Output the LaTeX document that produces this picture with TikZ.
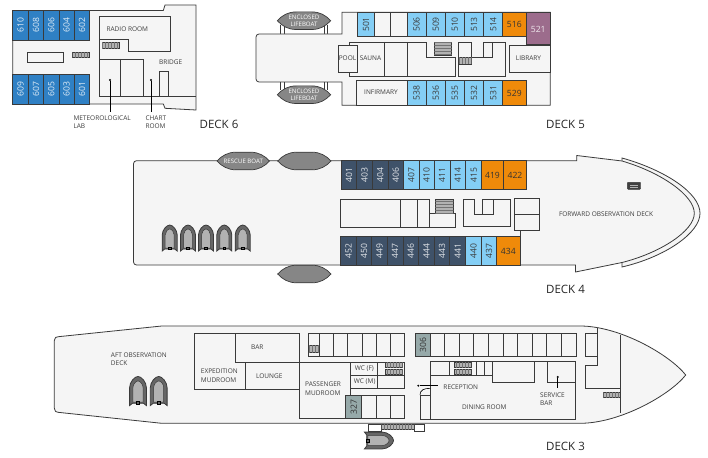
\documentclass[tikz,border=0pt]{standalone}
\usepackage{fontspec}
\setmainfont{Open Sans}
\usetikzlibrary{patterns}
\usetikzlibrary{calc}
\definecolor{deckfill}{HTML}{F5F5F5}
\definecolor{wall}{HTML}{3A3A3A}
\definecolor{label}{HTML}{3C3C3C}
\definecolor{mid}{HTML}{2F80C4}
\definecolor{sky}{HTML}{84CEF5}
\definecolor{navy}{HTML}{3F5269}
\definecolor{amber}{HTML}{EF8A0A}
\definecolor{mauve}{HTML}{9C6C8C}
\definecolor{sage}{HTML}{96A9A9}
\tikzset{
  hull/.style={draw=wall, fill=deckfill, line width=0.8pt},
  room/.style={draw=wall, line width=0.8pt},
  cabin/.style={draw=wall, line width=0.8pt},
  stairs/.style={draw=wall, line width=0.5pt, fill=gray!60, pattern color=gray!90!black},
  num/.style={rotate=90, inner sep=0pt, font=\fontsize{8.6}{9}\selectfont},
  numflat/.style={inner sep=0pt, font=\fontsize{8.6}{9}\selectfont},
  txt/.style={inner sep=0pt, text=label, font=\fontsize{6.5}{8.4}\selectfont},
  boattxt/.style={inner sep=0pt, text=white, align=center, font=\fontsize{6.1}{6.6}\selectfont},
  deckname/.style={inner sep=0pt, text=black!85, font=\fontsize{11.5}{13}\selectfont},
  dotmark/.style={circle, fill=black, inner sep=0pt, minimum size=2.2pt},
  boat/.style={draw=wall, fill=gray!95, line width=0.7pt},
  zodiac/.pic={
    \filldraw[draw=wall, fill=black!60, line width=0.8pt]
      (-7.5,13) -- (-7.5,-3) .. controls (-7.5,-8) and (-3,-13) .. (0,-13)
      .. controls (3,-13) and (7.5,-8) .. (7.5,-3) -- (7.5,13) -- (5,11) -- (-5,11) -- cycle;
    \filldraw[draw=wall, fill=gray!60, line width=0.5pt]
      (-4.5,10) -- (-4.5,-3) .. controls (-4.5,-6) and (-2,-9) .. (0,-9)
      .. controls (2,-9) and (4.5,-6) .. (4.5,-3) -- (4.5,10) -- cycle;
    \filldraw[draw=black, fill=black!60, line width=0.6pt] (-1.3,9) rectangle (1.3,11.5);
  }
}
\newcommand{\lensboat}[3]{
  \filldraw[boat] (#1,#3) .. controls (#1+5,#3-5.5) and (#1+11,#3-8.8) .. (#1+19,#3-8.8)
    -- (#2-19,#3-8.8) .. controls (#2-11,#3-8.8) and (#2-5,#3-5.5) .. (#2,#3)
    .. controls (#2-5,#3+5.5) and (#2-11,#3+8.8) .. (#2-19,#3+8.8)
    -- (#1+19,#3+8.8) .. controls (#1+11,#3+8.8) and (#1+5,#3+5.5) .. (#1,#3) -- cycle;
}

\begin{document}
\begin{tikzpicture}[x=1pt, y=-1pt]
  \useasboundingbox (0, 0) rectangle (708, 457);

  % deck 6
  \filldraw[hull] (12.7, 10.5) -- (163.3, 10.5) -- (165, 5) -- (196, 5) -- (196, 110) -- (165, 108.3)
    -- (163.3, 104) -- (12.7, 104) -- cycle;
  \foreach \xa/\xb/\top/\bot in {12.7/28.3/610/609, 28.3/43.7/608/607, 43.7/59/606/605, 59/74.3/604/603, 74.3/89.7/602/601} {
    \filldraw[cabin, fill=mid] (\xa, 10.7) rectangle (\xb, 40);
    \filldraw[cabin, fill=mid] (\xa, 74) rectangle (\xb, 104);
    \node[num, text=white!85!mid] (c\top) at ({(\xa+\xb)/2}, 25) {\top};
    \node[num, text=white!85!mid] (c\bot) at ({(\xa+\xb)/2}, 89) {\bot};
  }
  \draw[room] (27.7, 52) rectangle (63.3, 62.3);
  \filldraw[stairs, postaction={pattern=vertical lines}] (72.7, 52.3) rectangle (89.3, 57.7);
  \draw[room] (99.3, 59) -- (99.3, 16.7) -- (170.3, 16.7) -- (170.3, 51.7) -- (128.7, 51.7) -- (128.7, 39.3) -- (99.3, 39.3);
  \draw[room] (99.3, 59) -- (99.3, 96.7) -- (196, 96.7);
  \draw[room] (99.3, 59) -- (143.3, 59) -- (143.3, 96.7);
  \draw[room] (120.7, 59) -- (120.7, 96.7);
  \draw[room] (159.3, 96.7) -- (159.3, 71.7) -- (168.3, 71.7) -- (168.3, 96.7);
  \filldraw[stairs, postaction={pattern=vertical lines}] (102, 42.7) rectangle (119.3, 48.7);
  \node[txt] (radio) at (127.3, 29.3) {RADIO ROOM};
  \node[txt] (bridge) at (170.7, 62.3) {BRIDGE};
  \node[dotmark] (labdot) at (110, 80) {};
  \node[dotmark] (chartdot) at (151, 80) {};
  \coordinate (labend) at (110, 112);
  \coordinate (chartend) at (151, 112);
  \draw[line width=0.6pt] (labdot) -- (labend);
  \draw[line width=0.6pt] (chartdot) -- (chartend);
  \node[txt, anchor=north west, align=left] (lab) at (73.3, 115.5) {METEOROLOGICAL\\LAB};
  \node[txt, anchor=north west, align=left] (chart) at (145.3, 115.5) {CHART\\ROOM};
  \node[deckname, anchor=west] (deck6) at (199.5, 124) {DECK 6};

  % deck 5
  \draw[room] (280.7, 25) -- (280.7, 34) (284.3, 25) -- (284.3, 34) (324, 25) -- (324, 34) (327.7, 25) -- (327.7, 34);
  \draw[room] (280.7, 82) -- (280.7, 90) (284.3, 82) -- (284.3, 90) (324, 82) -- (324, 90) (327.7, 82) -- (327.7, 90);
  \filldraw[hull] (342, 12.3) -- (550.3, 12.3) -- (550.3, 105.3) -- (342, 105.3) -- (342, 82)
    [rounded corners=3pt] -- (256, 82) -- (256, 34) [sharp corners] -- (342, 34) -- cycle;
  \foreach \xa/\xb/\lab/\col in {357.7/374.3/501/sky, 374.3/390.7//deckfill, 390.7/407//deckfill, 407/426.3/506/sky,
      426.3/445.3/509/sky, 445.3/464.3/510/sky, 464.3/483.7/513/sky, 483.7/502.7/514/sky} {
    \filldraw[cabin, fill=\col] (\xa, 12.3) rectangle (\xb, 36.7);
    \node[num, text=label] (t\xa) at ({(\xa+\xb)/2}, 24.5) {\lab};
  }
  \filldraw[cabin, fill=amber] (502.7, 12.3) rectangle (526, 36.7);
  \node[numflat, text=black!80] (c516) at (514.3, 24.5) {516};
  \filldraw[cabin, fill=mauve] (526, 12.3) rectangle (550.3, 44);
  \node[numflat, text=white!85!mauve] (c521) at (538.2, 29) {521};
  \filldraw[cabin, fill=deckfill] (356.3, 80.3) rectangle (407, 105.3);
  \foreach \xa/\xb/\lab in {407/426.3/538, 426.3/445.3/536, 445.3/464.3/535, 464.3/483.7/532, 483.7/502.7/531} {
    \filldraw[cabin, fill=sky] (\xa, 80.3) rectangle (\xb, 105.3);
    \node[num, text=label] (c\lab) at ({(\xa+\xb)/2}, 92.8) {\lab};
  }
  \filldraw[cabin, fill=amber] (502.7, 80.3) rectangle (526, 105.3);
  \node[numflat, text=black!80] (c529) at (514.3, 93) {529};
  \draw[room] (349, 45) -- (349, 42) -- (426, 42) -- (426, 57.3) -- (455.7, 57.3) -- (455.7, 76) -- (349, 76) -- (349, 72.3);
  \draw[room] (384.3, 42) -- (384.3, 76);
  \draw[room] (407, 42) -- (407, 76);
  \filldraw[room, fill=deckfill] (338, 45) rectangle (357, 72.3);
  \filldraw[stairs, postaction={pattern=horizontal lines}] (434.3, 42.3) rectangle (451.7, 55);
  \draw[room] (458.7, 57.3) -- (458.7, 42) -- (471.7, 42) -- (471.7, 57.3);
  \draw[room] (458.7, 57.3) -- (458.7, 76) -- (505.7, 76) -- (505.7, 42) -- (492.3, 42) -- (492.3, 57.3) -- (483.7, 57.3) -- (483.7, 42) -- (492.3, 42);
  \draw[room] (458.7, 57.3) -- (492.3, 57.3);
  \filldraw[stairs, postaction={pattern=vertical lines}] (458.7, 57.3) rectangle (471.7, 64);
  \filldraw[room, fill=deckfill] (509.3, 45) rectangle (550.3, 72.3);
  \lensboat{277.3}{330.7}{20.7}
  \lensboat{277.3}{330.7}{94.7}
  \node[boattxt] (boatone) at (304, 20.7) {ENCLOSED\\LIFEBOAT};
  \node[boattxt] (boattwo) at (304, 94.7) {ENCLOSED\\LIFEBOAT};
  \node[txt] (pool) at (347.5, 58.3) {POOL};
  \node[txt] (sauna) at (370.5, 58.3) {SAUNA};
  \node[txt] (infirmary) at (381, 92.5) {INFIRMARY};
  \node[txt] (library) at (528.5, 58.3) {LIBRARY};
  \node[deckname, anchor=west] (deck5) at (546, 124) {DECK 5};

  % deck 4
  \filldraw[hull] (622, 158) .. controls (665, 170) and (700, 193) .. (700, 213.3)
    .. controls (700, 233) and (665, 257) .. (622, 267) -- (622, 262) -- (622, 161) -- cycle;
  \filldraw[hull] (576.7, 155.5) -- (622, 161) .. controls (660, 172) and (694.3, 195) .. (694.3, 213.3)
    .. controls (694.3, 231) and (660, 253) .. (622, 262.5) -- (575.5, 272) -- (575.5, 265) -- (520, 265)
    [rounded corners=3pt] -- (133.5, 265) -- (133.5, 160.7) [sharp corners] -- (576.7, 160.7) -- cycle;
  \lensboat{217}{269.5}{161}
  \lensboat{277.7}{331}{161}
  \lensboat{277.7}{331}{274}
  \node[boattxt] (rescue) at (243.3, 161) {RESCUE BOAT};
  \foreach \xa/\xb/\lab in {341.3/356.7/401, 356.7/372.3/403, 372.3/388.3/404, 388.3/403.5/406} {
    \filldraw[cabin, fill=navy] (\xa, 160.7) rectangle (\xb, 189.3);
    \node[num, text=white!85!navy] (c\lab) at ({(\xa+\xb)/2}, 175) {\lab};
  }
  \foreach \xa/\xb/\lab in {403.5/419/407, 419/434.3/410, 434.3/450/411, 450/465.7/414, 465.7/481.7/415} {
    \filldraw[cabin, fill=sky] (\xa, 160.7) rectangle (\xb, 189.3);
    \node[num, text=label] (c\lab) at ({(\xa+\xb)/2}, 175) {\lab};
  }
  \foreach \xa/\xb/\lab in {481.7/503.3/419, 503.3/526.7/422} {
    \filldraw[cabin, fill=amber] (\xa, 160.7) rectangle (\xb, 189.3);
    \node[numflat, text=black!80] (c\lab) at ({(\xa+\xb)/2}, 175.5) {\lab};
  }
  \foreach \xa/\xb/\lab in {340.7/356.3/452, 356.3/371.7/450, 371.7/387.3/449, 387.3/403/447,
      403/418.7/446, 418.7/434.3/444, 434.3/449.7/443, 449.7/465.7/441} {
    \filldraw[cabin, fill=navy] (\xa, 236.3) rectangle (\xb, 265);
    \node[num, text=white!85!navy] (c\lab) at ({(\xa+\xb)/2}, 250.7) {\lab};
  }
  \foreach \xa/\xb/\lab in {465.7/481.3/440, 481.3/496.7/437} {
    \filldraw[cabin, fill=sky] (\xa, 236.3) rectangle (\xb, 265);
    \node[num, text=label] (c\lab) at ({(\xa+\xb)/2}, 250.7) {\lab};
  }
  \filldraw[cabin, fill=amber] (496.7, 236.3) rectangle (520, 265);
  \node[numflat, text=black!80] (c434) at (508.3, 251) {434};
  \draw[room] (340.7, 199.3) rectangle (429.3, 227);
  \draw[room] (400.7, 199.3) -- (400.7, 227);
  \draw[room] (417.3, 199.3) -- (417.3, 227);
  \draw[room] (429.3, 213.3) rectangle (455, 227.3);
  \filldraw[stairs, postaction={pattern=horizontal lines}] (435.3, 199.3) rectangle (453.3, 213.3);
  \draw[room] (463.3, 199.3) -- (474.7, 199.3) -- (474.7, 214) -- (493.3, 214) -- (493.3, 199.3) -- (510, 199.3) -- (510, 226.7) -- (463.3, 226.7) -- cycle;
  \draw[room] (482.7, 214) -- (482.7, 199.3) -- (493.3, 199.3);
  \filldraw[room, fill=deckfill] (514.7, 198.3) rectangle (539, 230.3);
  \draw[room] (514.7, 214.3) -- (539, 214.3);
  \draw[room] (520, 230.3) -- (520, 236.3);
  \filldraw[draw=wall, fill=black!75, rounded corners=0.8pt] (627.3, 182.3) rectangle (640.7, 189.3);
  \draw[gray!60, line width=0.7pt] (630, 185) -- (638, 185) (630, 187) -- (638, 187);
  \foreach \x in {169.7, 188, 206, 224.3, 242.7} {
    \pic at (\x, 238) {zodiac};
  }
  \node[txt] (forward) at (606, 213.7) {FORWARD OBSERVATION DECK};
  \node[deckname, anchor=west] (deck4) at (546, 289) {DECK 4};

  % deck 3
  \filldraw[hull] (161.7, 326) -- (580, 326) .. controls (620, 326) and (670, 355) .. (685.7, 375)
    .. controls (670, 395) and (620, 423.3) .. (580, 423.3) -- (161.7, 423.3) -- (58, 412.3)
    .. controls (55.5, 412) .. (54.3, 408) -- (54.3, 340.7) .. controls (55.5, 337) .. (58.3, 336.7) -- cycle;
  \draw[room] (620.7, 335) -- (620.7, 413.3);
  \draw[room] (597.7, 328) -- (597.7, 365) -- (585.7, 365) -- (585.7, 388.3) -- (620.7, 388.3);
  \draw[room] (597.7, 333.3) -- (585, 333.3) -- (585, 356.7) -- (597.7, 356.7);
  \filldraw[stairs, postaction={pattern=vertical lines}] (603.3, 392.3) rectangle (620, 397.7);
  \draw[room] (194.3, 333.3) rectangle (245.3, 389.3);
  \filldraw[room, fill=deckfill] (235.7, 333.3) rectangle (299, 362);
  \draw[room] (245.3, 362) rectangle (299, 389.3);
  \draw[room] (299, 362) -- (299, 418.7) -- (404.7, 418.7);
  \draw[room] (299, 362) -- (350.7, 362) -- (350.7, 395.3);
  \foreach \xa/\xb in {308.3/319.3, 319.3/333.7, 333.7/347.7, 347.7/362, 362/376.3, 376.3/390.7, 390.7/404.7} {
    \draw[cabin] (\xa, 333.3) rectangle (\xb, 356.7);
  }
  \filldraw[stairs, postaction={pattern=vertical lines}] (308.3, 345) rectangle (319.3, 352.7);
  \foreach \xa/\xb in {430.3/444.7, 444.7/459.3, 459.3/473.7, 473.7/488.3, 488.3/503, 503/517.7, 517.7/532.3, 532.3/546.7, 546.7/561.3, 561.3/576} {
    \draw[cabin] (\xa, 333.3) rectangle (\xb, 356.7);
  }
  \filldraw[cabin, fill=sage] (415.7, 333.3) rectangle (430.3, 356.7);
  \node[num, text=black!80] (c306) at (423, 345) {306};
  \draw[room] (350.7, 362) rectangle (404.7, 388.3);
  \draw[room] (350.7, 375) -- (404.7, 375);
  \draw[room] (377.7, 362) -- (377.7, 388.3);
  \filldraw[stairs, postaction={pattern=vertical lines}] (385, 362.3) rectangle (402.7, 367.5);
  \filldraw[stairs, postaction={pattern=vertical lines}] (385, 369) rectangle (402.7, 374.3);
  \foreach \xa/\xb in {361.7/376.3, 376.3/390.7, 390.7/404.7} {
    \draw[cabin] (\xa, 395.3) rectangle (\xb, 418.7);
  }
  \filldraw[cabin, fill=sage] (345.7, 395.3) rectangle (361.7, 418.7);
  \node[num, text=black!80] (c327) at (353.7, 407) {327};
  \draw[room] (430.3, 361.3) rectangle (575.3, 419);
  \draw[room] (430.3, 375) -- (492.7, 375);
  \draw[room] (449.3, 361.3) -- (449.3, 375);
  \draw[room] (476, 361.3) -- (476, 375);
  \draw[room] (484, 361.3) -- (484, 375);
  \filldraw[stairs, postaction={pattern=vertical lines}] (454, 362.3) rectangle (471, 367.5);
  \filldraw[stairs, postaction={pattern=vertical lines}] (454, 369) rectangle (471, 374.3);
  \draw[room] (492.7, 361.3) -- (492.7, 382.3) -- (534.7, 382.3) -- (534.7, 361.3);
  \draw[room] (547, 361.3) -- (547, 382.3) -- (575.3, 382.3);
  \draw[room] (420, 419) -- (420, 395) -- (430.3, 395);
  \draw[line width=0.6pt] (420, 395) .. controls (420, 390) and (424, 388.3) .. (430.3, 388.3);
  \draw[room] (420, 419) -- (430.3, 419);
  \node[dotmark] (receptdot) at (418.3, 385.7) {};
  \coordinate (receptend) at (438.3, 385.7);
  \draw[line width=0.6pt] (receptdot) -- (receptend);
  \node[dotmark] (servicedot) at (557.7, 377) {};
  \coordinate (serviceend) at (557.7, 388.3);
  \draw[line width=0.6pt] (servicedot) -- (serviceend);
  \filldraw[room, fill=white] (368.3, 424) rectangle (381.7, 431.7);
  \filldraw[room, fill=white] (414, 424) rectangle (424, 431.3);
  \filldraw[stairs, postaction={pattern=vertical lines}] (381.7, 424.3) rectangle (414, 429);
  \pic[rotate=-90, scale=1.12] at (379, 440.5) {zodiac};
  \foreach \x in {138, 158.7} {
    \pic[scale=1.12] at (\x, 391) {zodiac};
  }
  \node[txt, anchor=west, align=left] (aft) at (110.7, 359.3) {AFT OBSERVATION\\DECK};
  \node[txt] (bar) at (257.3, 347.3) {BAR};
  \node[txt, anchor=west, align=left] (expedition) at (200.7, 375.8) {EXPEDITION\\MUDROOM};
  \node[txt] (lounge) at (269.3, 376) {LOUNGE};
  \node[txt, anchor=west, align=left] (passenger) at (305, 388.5) {PASSENGER\\MUDROOM};
  \node[txt] (wcf) at (364.3, 368.7) {WC (F)};
  \node[txt] (wcm) at (364.7, 381.7) {WC (M)};
  \node[txt] (reception) at (460.8, 386.7) {RECEPTION};
  \node[txt] (dining) at (484.3, 406.7) {DINING ROOM};
  \node[txt, anchor=west, align=left] (service) at (540, 399.3) {SERVICE\\BAR};
  \node[deckname, anchor=west] (deck3) at (546, 446) {DECK 3};
\end{tikzpicture}
\end{document}
